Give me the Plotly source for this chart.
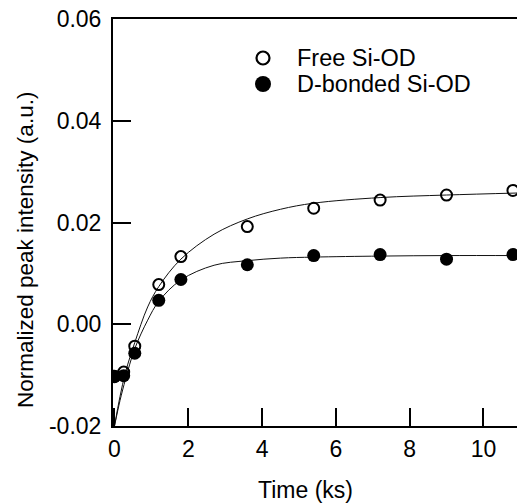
import plotly.graph_objects as go

# ---- data ----
time_points = [0.0, 0.25, 0.55, 1.2, 1.8, 3.6, 5.4, 7.2, 9.0, 10.8]
free_sioD = [-0.0102, -0.0094, -0.0043, 0.0078, 0.0133, 0.0192, 0.0228, 0.0244, 0.0254, 0.0263]
dbonded_sioD = [-0.0103, -0.0101, -0.0057, 0.0047, 0.0088, 0.0117, 0.0135, 0.0137, 0.0128, 0.0137]

# fitted curves
fit_t = [0, 0.15, 0.3, 0.55, 0.9, 1.2, 1.8, 2.7, 3.6, 4.5, 5.4, 7.2, 9.0, 10.95]
free_fit = [-0.0200, -0.0142, -0.0094, -0.0036, 0.0034, 0.0074, 0.0128, 0.0177, 0.0207, 0.0226, 0.0238, 0.0249, 0.0254, 0.0258]
dbonded_fit = [-0.0200, -0.0150, -0.0108, -0.0048, 0.0008, 0.0045, 0.0087, 0.0116, 0.0125, 0.0130, 0.0132, 0.0134, 0.0135, 0.0135]

series_names = ["Free Si-OD", "D-bonded Si-OD"]

x_tickvals = [0, 2, 4, 6, 8, 10]
x_ticktext = ["0", "2", "4", "6", "8", "10"]
y_tickvals = [-0.02, 0.0, 0.02, 0.04, 0.06]
y_ticktext = ["-0.02", "0.00", "0.02", "0.04", "0.06"]

FONT = "Liberation Sans, Arial, Helvetica, sans-serif"
FS = 23

fig = go.Figure()
fig.add_trace(go.Scatter(x=fit_t, y=free_fit, mode="lines", line=dict(color="#111", width=1, shape="spline"),
                         showlegend=False, hoverinfo="skip"))
fig.add_trace(go.Scatter(x=fit_t, y=dbonded_fit, mode="lines", line=dict(color="#111", width=1, shape="spline"),
                         showlegend=False, hoverinfo="skip"))
fig.add_trace(go.Scatter(x=time_points, y=free_sioD, mode="markers", name=series_names[0], showlegend=False,
                         marker=dict(symbol="circle-open", size=11, color="#000", line=dict(width=2, color="#000"))))
fig.add_trace(go.Scatter(x=time_points, y=dbonded_sioD, mode="markers", name=series_names[1], showlegend=False,
                         marker=dict(symbol="circle", size=13, color="#000", line=dict(width=0))))

L, T, B = 113, 19, 78
W, H = 517, 504
pw = W - L
ph = H - T - B


def px_x(p):
    return (p - L) / pw


def px_y(p):
    return (T + ph - p) / ph


# legend drawn manually (marker shapes + text)
legend_rows = [58, 84]
legend_marker_x = 263
legend_text_x = 295

shapes = [dict(type="line", xref="paper", yref="paper", x0=px_x(111), x1=1, y0=px_y(18), y1=px_y(18),
               line=dict(color="#000", width=2))]
shapes.append(dict(type="circle", xref="paper", yref="paper", xsizemode="pixel", ysizemode="pixel",
                   xanchor=px_x(legend_marker_x), yanchor=px_y(legend_rows[0]),
                   x0=-6.5, x1=6.5, y0=-6.5, y1=6.5, line=dict(color="#000", width=2.2), fillcolor="white"))
shapes.append(dict(type="circle", xref="paper", yref="paper", xsizemode="pixel", ysizemode="pixel",
                   xanchor=px_x(legend_marker_x), yanchor=px_y(legend_rows[1]),
                   x0=-8, x1=8, y0=-8, y1=8, line=dict(color="#000", width=0), fillcolor="#000"))

annotations = [
    dict(text="Time (ks)", xref="paper", yref="paper", x=px_x(305), y=px_y(490),
         xanchor="center", yanchor="middle", showarrow=False, font=dict(size=FS)),
    dict(text="Normalized peak intensity (a.u.)", xref="paper", yref="paper",
         x=px_x(25), y=px_y(250), textangle=-90,
         xanchor="center", yanchor="middle", showarrow=False, font=dict(size=22.5)),
]
for name, row in zip(series_names, legend_rows):
    annotations.append(dict(text=name, xref="paper", yref="paper", x=px_x(legend_text_x), y=px_y(row),
                            xanchor="left", yanchor="middle", showarrow=False, font=dict(size=23.5)))

fig.update_layout(
    width=W, height=H,
    margin=dict(l=L, r=0, t=T, b=B, pad=0),
    paper_bgcolor="white", plot_bgcolor="white",
    font=dict(family=FONT, size=FS, color="#000"),
    showlegend=False,
    xaxis=dict(range=[-0.04, 10.91], tickvals=x_tickvals, ticktext=x_ticktext,
               ticks="inside", ticklen=18, tickwidth=2, tickcolor="#000",
               showline=True, linewidth=2, linecolor="#000", mirror=False,
               showgrid=False, zeroline=False, tickfont=dict(size=FS), ticklabelstandoff=1),
    yaxis=dict(range=[-0.02, 0.06], tickvals=y_tickvals, ticktext=y_ticktext,
               ticks="inside", ticklen=18, tickwidth=2, tickcolor="#000",
               showline=True, linewidth=2, linecolor="#000", mirror=False,
               showgrid=False, zeroline=False, tickfont=dict(size=FS), ticklabelstandoff=5),
    annotations=annotations,
    shapes=shapes,
)

fig.write_html("out.html")
